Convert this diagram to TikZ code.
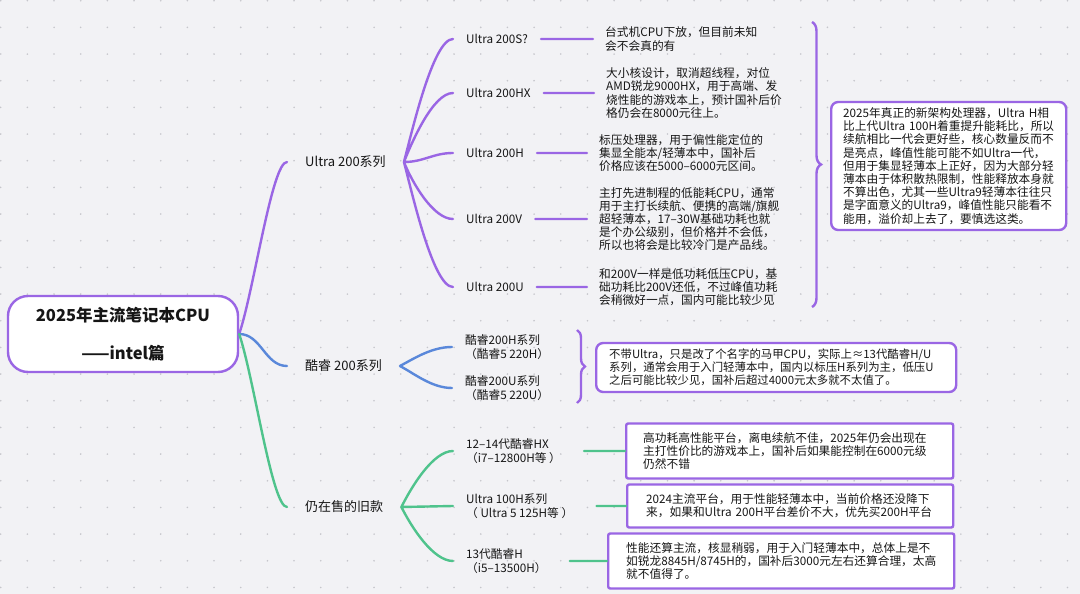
\documentclass[tikz,border=0pt]{standalone}
\usepackage{fontspec}
\setmainfont{Noto Sans CJK SC}
\usetikzlibrary{decorations.pathreplacing}
\definecolor{purp}{HTML}{9A66E4}
\definecolor{blu}{HTML}{5A88DA}
\definecolor{grn}{HTML}{4FC38C}
\definecolor{bg}{HTML}{F2F2F5}
\definecolor{dotc}{HTML}{C6C6CC}
\definecolor{txt}{HTML}{161616}
\tikzstyle{root}=[draw=purp,line width=2.4pt,fill=white,rounded corners=20pt,minimum width=230pt,minimum height=76pt,align=center,font=\bfseries\fontsize{16.5}{20}\selectfont]
\tikzstyle{l1}=[anchor=west,inner xsep=18pt,font=\fontsize{13}{15}\selectfont]
\tikzstyle{l2}=[anchor=west,inner xsep=13pt,align=left,font=\fontsize{11.7}{14}\selectfont]
\tikzstyle{desc}=[anchor=west,inner xsep=12pt,align=left,font=\fontsize{11.7}{13.2}\selectfont]
\tikzstyle{note}=[desc,draw=purp,line width=2.4pt,fill=white,rounded corners=7pt,inner ysep=2pt]
\tikzstyle{card}=[note,rounded corners=2pt]
\tikzstyle{curly}=[decorate,decoration={brace,amplitude=9pt},draw=purp,line width=2.4pt]
\tikzstyle{link}=[line width=2.4pt,line cap=round]

\begin{document}
\begin{tikzpicture}[x=1pt,y=-1pt,every node/.style={text=txt}]
                        \fill[bg] (0,0) rectangle (1080,594);
                        \useasboundingbox (0,0) rectangle (1080,594);
                        \foreach \i in {0,...,40}
                          \foreach \j in {0,...,22}
                            \fill[dotc] (0.7+26.67*\i,0.7+26.67*\j) circle (0.9pt);

                        \node[root] (r) at (123,334) {2025年主流笔记本CPU\\[18pt]——intel篇};

                        \node[l1] (u) at (287,162) {Ultra 200系列};
                        \node[l1] (k) at (287,366) {酷睿 200系列};
                        \node[l1] (o) at (287,507) {仍在售的旧款};

                        \node[l2] (s1) at (453,39) {Ultra 200S?};
                        \node[l2] (s2) at (453,93) {Ultra 200HX};
                        \node[l2] (s3) at (453,153) {Ultra 200H};
                        \node[l2] (s4) at (453,219) {Ultra 200V};
                        \node[l2] (s5) at (453,287) {Ultra 200U};

                        \node[desc] (t1) at (593,39) {台式机CPU下放，但目前未知\\会不会真的有};
                        \node[desc] (t2) at (594,93) {大小核设计，取消超线程，对位\\AMD锐龙9000HX，用于高端、发\\烧性能的游戏本上，预计国补后价\\格仍会在8000元往上。};
                        \node[desc] (t3) at (587,153) {标压处理器，用于偏性能定位的\\集显全能本/轻薄本中，国补后\\价格应该在5000–6000元区间。};
                        \node[desc] (t4) at (587,219) {主打先进制程的低能耗CPU，通常\\用于主打长续航、便携的高端/旗舰\\超轻薄本，17–30W基础功耗也就\\是个办公级别，但价格并不会低，\\所以也将会是比较冷门是产品线。};
                        \node[desc] (t5) at (587,287) {和200V一样是低功耗低压CPU，基\\础功耗比200V还低，不过峰值功耗\\会稍微好一点，国内可能比较少见};

                        \coordinate (ub1) at (812,22);
                        \coordinate (ub2) at (812,307);
                        \node[note,text width=211pt,minimum height=128pt] (un) at (830,166) {2025年真正的新架构处理器，Ultra H相\\比上代Ultra 100H着重提升能耗比，所以\\续航相比一代会更好些，核心数量反而不\\是亮点，峰值性能可能不如Ultra一代，\\但用于集显轻薄本上正好，因为大部分轻\\薄本由于体积散热限制，性能释放本身就\\不算出色，尤其一些Ultra9轻薄本往往只\\是字面意义的Ultra9，峰值性能只能看不\\能用，溢价却上去了，要慎选这类。};

                        \node[l2] (k1) at (452,347) {酷睿200H系列\\（酷睿5 220H）};
                        \node[l2] (k2) at (452,388) {酷睿200U系列\\（酷睿5 220U）};

                        \coordinate (kb1) at (577,330);
                        \coordinate (kb2) at (577,403);
                        \node[note,inner xsep=13pt,text width=334pt,minimum height=49pt,font=\fontsize{11.4}{12.8}\selectfont] (kn) at (595,367.5) {不带Ultra，只是改了个名字的马甲CPU，实际上≈13代酷睿H/U\\系列，通常会用于入门轻薄本中，国内以标压H系列为主，低压U\\之后可能比较少见，国补后超过4000元太多就不太值了。};

                        \node[l2] (o1) at (453,451) {12–14代酷睿HX\\（i7–12800H等 ）};
                        \node[l2] (o2) at (453,506) {Ultra 100H系列\\（ Ultra 5 125H等 ）};
                        \node[l2] (o3) at (453,561) {13代酷睿H\\（i5–13500H）};

                        \node[card,inner xsep=17pt,text width=293pt,minimum height=55pt] (c1) at (625,451) {高功耗高性能平台，离电续航不佳，2025年仍会出现在\\主打性价比的游戏本上，国补后如果能控制在6000元级\\仍然不错};
                        \node[card,inner xsep=19pt,text width=288pt,minimum height=43pt] (c2) at (626,506) {2024主流平台，用于性能轻薄本中，当前价格还没降下\\来，如果和Ultra 200H平台差价不大，优先买200H平台};
                        \node[card,inner xsep=18pt,text width=310pt,minimum height=55pt] (c3) at (607,561) {性能还算主流，核显稍弱，用于入门轻薄本中，总体上是不\\如锐龙8845H/8745H的，国补后3000元左右还算合理，太高\\就不值得了。};

                        \draw[purp,link]

                        (r.east) .. controls +(15,-45) and +(-15,0) .. (u.west)

                        (u.east) .. controls +(8,-30) and +(-20,0) .. (s1.west)
                        (u.east) .. controls +(8,-20) and +(-20,0) .. (s2.west)
                        (u.east) .. controls +(20,0) and +(-20,0) .. (s3.west)
                        (u.east) .. controls +(8,20) and +(-20,0) .. (s4.west)
                        (u.east) .. controls +(8,30) and +(-20,0) .. (s5.west)

                        (s1.east) -- (t1.west)
                        (s2.east) -- (t2.west)
                        (s3.east) -- (t3.west)
                        (s4.east) -- (t4.west)
                        (s5.east) -- (t5.west)
                        ;

                        \draw[blu,link]

                        (r.east) .. controls +(22,0) and +(-22,0) .. (k.west)

                        (k.east) .. controls +(15,-8) and +(-20,0) .. (k1.west)
                        (k.east) .. controls +(15,8) and +(-20,0) .. (k2.west)
                        ;

                        \draw[grn,link]

                        (r.east) .. controls +(15,45) and +(-15,0) .. (o.west)

                        (o.east) .. controls +(10,-20) and +(-20,0) .. (o1.west)
                        (o.east) -- (o2.west)
                        (o.east) .. controls +(10,20) and +(-20,0) .. (o3.west)

                        ([xshift=10pt]o1.east) -- (c1.west)
                        ([xshift=10pt]o2.east) -- (c2.west)
                        ([xshift=10pt]o3.east) -- (c3.west)
                        ;

                        \draw[curly] (ub1) -- (ub2);
                        \draw[curly,decoration={amplitude=8pt}] (kb1) -- (kb2);

   		\end{tikzpicture}
\end{document}
